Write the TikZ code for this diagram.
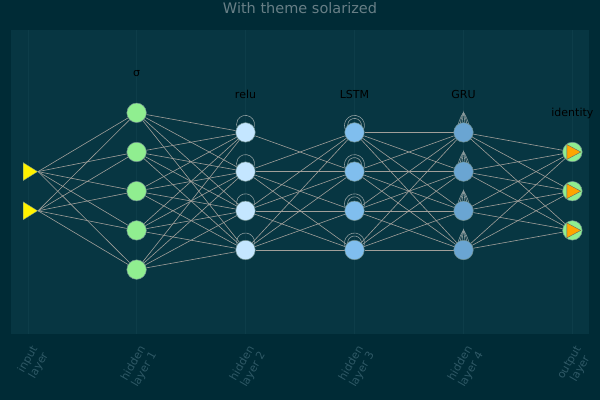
\documentclass[tikz,border=0pt]{standalone}
\usepackage{fontspec}
\setmainfont{DejaVu Sans}
\usetikzlibrary{shapes.geometric}
\pgfdeclarelayer{back}
\pgfdeclarelayer{bg}
\pgfsetlayers{back,bg,main}
\definecolor{basebg}{HTML}{002B36}
\definecolor{baseplot}{HTML}{073642}
\definecolor{gridc}{HTML}{0D3D49}
\definecolor{titlec}{HTML}{687F86}
\definecolor{tickc}{HTML}{2E5865}
\definecolor{edgec}{HTML}{A09F9A}
\definecolor{loopc}{HTML}{8A9A9C}
\definecolor{outlc}{HTML}{6F8F8F}
\definecolor{hone}{HTML}{90EE90}
\definecolor{htwo}{HTML}{C4E6FF}
\definecolor{hthree}{HTML}{80BEEE}
\definecolor{hfour}{HTML}{6AA5D2}
\definecolor{orangec}{HTML}{FFA500}
\tikzset{
  neuron/.style={circle, draw=outlc, line width=0.5pt, minimum size=19.5pt, inner sep=0pt},
  inpt/.style={isosceles triangle, isosceles triangle stretches, fill=yellow, draw=outlc, line width=0.3pt,
    minimum width=18pt, minimum height=14.5pt, inner sep=0pt, anchor=west},
  outtri/.style={isosceles triangle, isosceles triangle stretches, fill=orangec, draw=black!60, line width=0.4pt,
    minimum width=15pt, minimum height=14pt, inner sep=0pt, anchor=west},
  conn/.style={draw=edgec, line width=0.6pt},
  loopline/.style={draw=loopc, line width=0.6pt},
  annot/.style={font=\fontsize{11}{13}\selectfont, text=black},
  ticklab/.style={font=\fontsize{11}{12.5}\selectfont, text=tickc, rotate=60, anchor=east, align=center, inner sep=0pt},
  gridline/.style={draw=gridc, line width=0.5pt}
}
\begin{document}
\begin{tikzpicture}[x=1pt,y=1pt]
\begin{pgfonlayer}{back}
\fill[basebg] (0,0) rectangle (600,400);
\fill[baseplot] (11,66) rectangle (589,370);
\foreach \gx in {28.7,136.6,245.5,354.5,463.5,572.4}
  \draw[gridline] (\gx,66) -- (\gx,370);
\end{pgfonlayer}
\useasboundingbox (0,0) rectangle (600,400);
\node[font=\fontsize{14.5}{16}\selectfont, text=titlec] (title) at (300,391.5) {With theme solarized};
% input layer
\node[inpt] (i1) at (23,228.4) {};
\node[inpt] (i2) at (23,189.2) {};
% hidden 1
\foreach \n/\y in {1/287.2,2/248,3/208.8,4/169.6,5/130.4}
  \node[neuron, fill=hone] (a\n) at (136.6,\y) {};
% hidden 2
\foreach \n/\y in {1/267.6,2/228.4,3/189.2,4/150}
  \node[neuron, fill=htwo] (b\n) at (245.5,\y) {};
% hidden 3
\foreach \n/\y in {1/267.6,2/228.4,3/189.2,4/150}
  \node[neuron, fill=hthree] (c\n) at (354.5,\y) {};
% hidden 4
\foreach \n/\y in {1/267.6,2/228.4,3/189.2,4/150}
  \node[neuron, fill=hfour] (d\n) at (463.5,\y) {};
% output
\foreach \n/\y in {1/248,2/208.8,3/169.6}{
  \node[neuron, fill=hone] (o\n) at (572.4,\y) {};
  \node[outtri] (t\n) at (566.6,\y) {};
}
% annotations
\node[annot] (la) at (136.6,326) {σ};
\node[annot] (lb) at (245.5,306) {relu};
\node[annot] (lc) at (354.5,306) {LSTM};
\node[annot] (ld) at (463.5,306) {GRU};
\node[annot] (lo) at (572.4,287) {identity};
% tick labels
\node[ticklab] (x1) at (40.7,50) {input\\layer};
\node[ticklab] (x2) at (148.6,50) {hidden\\layer 1};
\node[ticklab] (x3) at (257.5,50) {hidden\\layer 2};
\node[ticklab] (x4) at (366.5,50) {hidden\\layer 3};
\node[ticklab] (x5) at (475.5,50) {hidden\\layer 4};
\node[ticklab] (x6) at (584.4,50) {output\\layer};
\begin{pgfonlayer}{bg}
  \foreach \i in {1,2}
    \foreach \j in {1,...,5}
      \draw[conn] (i\i.apex) -- (a\j);
  \foreach \i in {1,...,5}
    \foreach \j in {1,...,4}
      \draw[conn] (a\i) -- (b\j);
  \draw[conn] (b1) -- (c2);
  \foreach \i in {2,...,4}
    \foreach \j in {1,...,4}
      \draw[conn] (b\i) -- (c\j);
  \foreach \i in {1,...,4}
    \foreach \j in {1,...,4}
      \draw[conn] (c\i) -- (d\j);
  \foreach \i in {1,...,4}
    \foreach \j in {1,2,3}
      \draw[conn] (d\i) -- (o\j);
  % loops
  \foreach \n in {1,...,4}{
    \draw[loopline] ([shift={(-30:9)}]b\n.center) ++(0,8) arc[start angle=-30, end angle=210, radius=9];
    \draw[loopline] ([shift={(-30:10)}]c\n.center) ++(0,7) arc[start angle=-30, end angle=210, radius=10];
    \draw[loopline] ([shift={(-30:7)}]c\n.center) ++(0,7) arc[start angle=-30, end angle=210, radius=7];
    \foreach \w in {7,4.5,2}
      \draw[loopline] ([shift={(-\w,-2)}]d\n.center) .. controls +(0,8) and +(-\w*0.4,-4) .. ([shift={(0,20)}]d\n.center)
        .. controls +(\w*0.4,-4) and +(0,8) .. ([shift={(\w,-2)}]d\n.center);
  }
\end{pgfonlayer}
\end{tikzpicture}
\end{document}
